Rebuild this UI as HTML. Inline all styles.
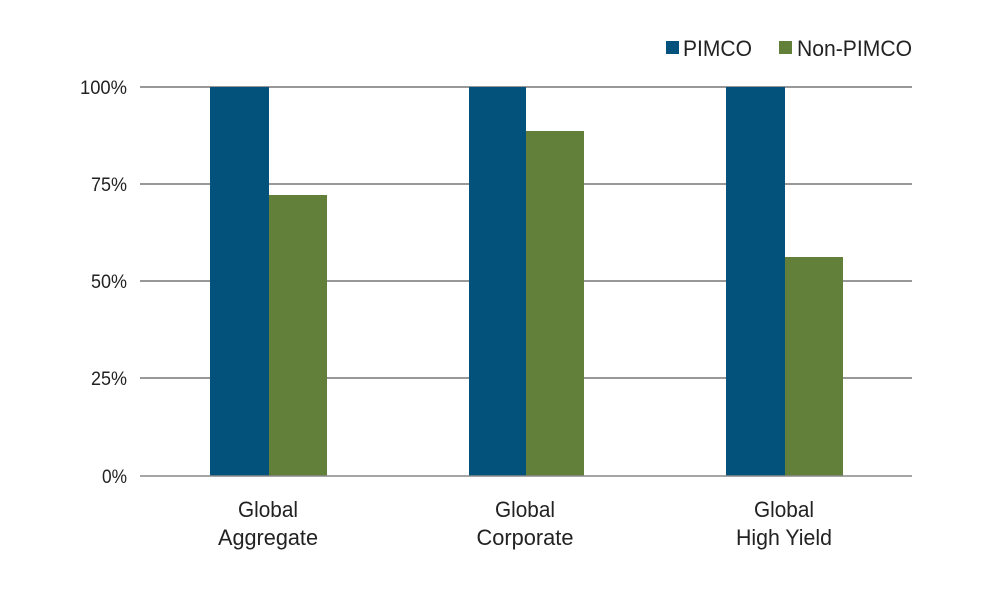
<!DOCTYPE html>
<html><head><meta charset="utf-8"><style>
html,body{margin:0;padding:0;background:#fff;}
svg{display:block;font-family:"Liberation Sans",sans-serif;}
</style></head><body>
<svg width="1000" height="600" viewBox="0 0 1000 600">
<g stroke="#777" stroke-width="1.5">
<line x1="140" y1="87" x2="912" y2="87"/>
<line x1="140" y1="184" x2="912" y2="184"/>
<line x1="140" y1="281" x2="912" y2="281"/>
<line x1="140" y1="378" x2="912" y2="378"/>
</g>
<g fill="#03527c">
<rect x="210" y="87" width="59" height="389"/>
<rect x="469" y="87" width="57" height="389"/>
<rect x="726" y="87" width="59" height="389"/>
</g>
<g fill="#62803a">
<rect x="269" y="195" width="58" height="281"/>
<rect x="526" y="131" width="58" height="345"/>
<rect x="785" y="257" width="58" height="219"/>
</g>
<line x1="140" y1="476" x2="912" y2="476" stroke="#888" stroke-width="1.5"/>
<g fill="#222" font-size="19" text-anchor="end">
<text x="127" y="94" textLength="47" lengthAdjust="spacingAndGlyphs">100%</text>
<text x="127" y="191" textLength="36" lengthAdjust="spacingAndGlyphs">75%</text>
<text x="127" y="288" textLength="36" lengthAdjust="spacingAndGlyphs">50%</text>
<text x="127" y="385" textLength="36" lengthAdjust="spacingAndGlyphs">25%</text>
<text x="127" y="483" textLength="25" lengthAdjust="spacingAndGlyphs">0%</text>
</g>
<g fill="#222" font-size="22" text-anchor="middle">
<text x="268" y="517" textLength="60" lengthAdjust="spacingAndGlyphs">Global</text>
<text x="268" y="545" textLength="100" lengthAdjust="spacingAndGlyphs">Aggregate</text>
<text x="525" y="517" textLength="60" lengthAdjust="spacingAndGlyphs">Global</text>
<text x="525" y="545" textLength="97" lengthAdjust="spacingAndGlyphs">Corporate</text>
<text x="784" y="517" textLength="60" lengthAdjust="spacingAndGlyphs">Global</text>
<text x="784" y="545" textLength="96" lengthAdjust="spacingAndGlyphs">High Yield</text>
</g>
<rect x="666" y="41" width="13" height="13" fill="#03527c"/>
<rect x="779" y="41" width="13" height="13" fill="#62803a"/>
<g fill="#222" font-size="22">
<text x="683" y="56" textLength="69" lengthAdjust="spacingAndGlyphs">PIMCO</text>
<text x="797" y="56" textLength="115" lengthAdjust="spacingAndGlyphs">Non-PIMCO</text>
</g>
</svg>
</body></html>
